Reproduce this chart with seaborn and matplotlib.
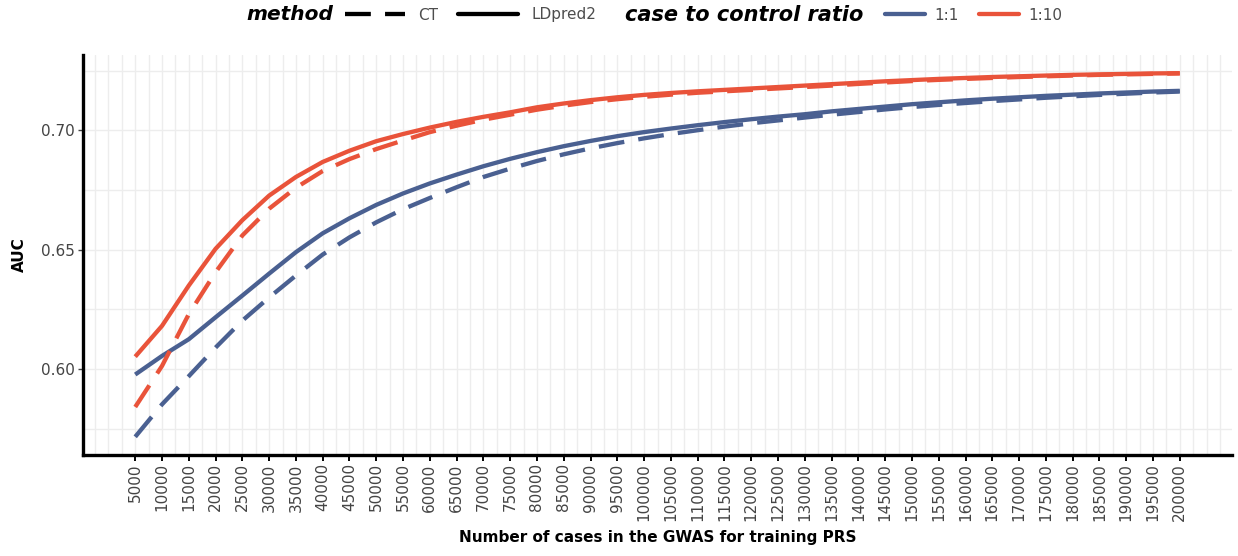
import numpy as np
import pandas as pd
import matplotlib
matplotlib.use("Agg")
import matplotlib.pyplot as plt
import seaborn as sns
from matplotlib.lines import Line2D
from matplotlib.ticker import MultipleLocator, FixedLocator

# ---------------- data ----------------
n_cases = list(range(5000, 200001, 5000))

ldpred2_1to10 = [0.6052, 0.6181, 0.6350, 0.6504, 0.6624, 0.6727, 0.6805, 0.6868, 0.6915, 0.6955,
                 0.6985, 0.7012, 0.7036, 0.7057, 0.7076, 0.7097, 0.7113, 0.7127, 0.7139, 0.7149,
                 0.7157, 0.7164, 0.7170, 0.7176, 0.7182, 0.7188, 0.7194, 0.7200, 0.7206, 0.7211,
                 0.7216, 0.7220, 0.7224, 0.7227, 0.7230, 0.7233, 0.7235, 0.7237, 0.7239, 0.7240]
ct_1to10 = [0.5841, 0.6013, 0.6230, 0.6406, 0.6560, 0.6672, 0.6760, 0.6830, 0.6880, 0.6922,
            0.6958, 0.6993, 0.7020, 0.7045, 0.7066, 0.7087, 0.7104, 0.7119, 0.7131, 0.7141,
            0.7150, 0.7158, 0.7164, 0.7170, 0.7176, 0.7182, 0.7188, 0.7195, 0.7201, 0.7207,
            0.7212, 0.7216, 0.7220, 0.7224, 0.7227, 0.7230, 0.7233, 0.7235, 0.7237, 0.7239]
ldpred2_1to1 = [0.5977, 0.6055, 0.6125, 0.6217, 0.6308, 0.6400, 0.6490, 0.6569, 0.6632, 0.6688,
                0.6736, 0.6778, 0.6815, 0.6850, 0.6881, 0.6909, 0.6934, 0.6956, 0.6976, 0.6993,
                0.7008, 0.7022, 0.7035, 0.7047, 0.7058, 0.7068, 0.7080, 0.7090, 0.7100, 0.7110,
                0.7118, 0.7126, 0.7133, 0.7139, 0.7145, 0.7150, 0.7155, 0.7159, 0.7163, 0.7166]
ct_1to1 = [0.5716, 0.5852, 0.5970, 0.6090, 0.6203, 0.6300, 0.6392, 0.6480, 0.6552, 0.6615,
           0.6670, 0.6717, 0.6762, 0.6805, 0.6840, 0.6872, 0.6900, 0.6925, 0.6947, 0.6967,
           0.6985, 0.7001, 0.7016, 0.7030, 0.7042, 0.7054, 0.7066, 0.7077, 0.7088, 0.7098,
           0.7107, 0.7115, 0.7123, 0.7130, 0.7137, 0.7143, 0.7149, 0.7154, 0.7159, 0.7163]

methods = ["CT", "LDpred2"]
ratios = ["1:1", "1:10"]
y_ticks = [0.60, 0.65, 0.70]
y_tick_labels = ["0.60", "0.65", "0.70"]

series = {("CT", "1:1"): ct_1to1, ("LDpred2", "1:1"): ldpred2_1to1,
          ("CT", "1:10"): ct_1to10, ("LDpred2", "1:10"): ldpred2_1to10}
rows = []
for (m, r), vals in series.items():
    for x, v in zip(n_cases, vals):
        rows.append({"n": x, "AUC": v, "method": m, "ratio": r})
df = pd.DataFrame(rows)

# ---------------- style ----------------
sns.set_theme(style="white")
plt.rcParams["font.family"] = ["DejaVu Sans"]

blue = "#4A6091"
red = "#E9533A"
palette = {"1:1": blue, "1:10": red}
dashes = {"CT": (6, 3.3), "LDpred2": ""}
lw = 3.1

W, H = 1238, 556
fig = plt.figure(figsize=(W / 100, H / 100), dpi=100)
ax = fig.add_axes([83 / W, 1 - 455 / H, (1232 - 83) / W, (455 - 55) / H])

sns.lineplot(data=df, x="n", y="AUC", hue="ratio", style="method",
             palette=palette, dashes=dashes, hue_order=ratios, style_order=methods,
             linewidth=lw, legend=False, ax=ax)
for ln in ax.get_lines():
    ln.set_dash_capstyle("butt")
    ln.set_solid_capstyle("butt")

xmin, xmax = min(n_cases), max(n_cases)
xr = xmax - xmin
ax.set_xlim(xmin - 0.05 * xr, xmax + 0.05 * xr)
allv = ct_1to1 + ct_1to10 + ldpred2_1to1 + ldpred2_1to10
ymin, ymax = min(allv), max(allv)
yr = ymax - ymin
ax.set_ylim(ymin - 0.05 * yr, ymax + 0.05 * yr)

ax.xaxis.set_major_locator(FixedLocator(n_cases))
ax.set_xticklabels([str(v) for v in n_cases], rotation=90)
ax.xaxis.set_minor_locator(MultipleLocator(2500))
ax.yaxis.set_major_locator(FixedLocator(y_ticks))
ax.set_yticklabels(y_tick_labels)
ax.yaxis.set_minor_locator(MultipleLocator(0.025))

ax.grid(True, which="both", color="#EDEDED", linewidth=1.0)
ax.set_axisbelow(True)

for s in ["top", "right"]:
    ax.spines[s].set_visible(False)
for s in ["left", "bottom"]:
    ax.spines[s].set_visible(True)
    ax.spines[s].set_color("black")
    ax.spines[s].set_linewidth(2.4)

ax.tick_params(axis="x", which="major", length=4.5, width=1.4, color="black",
               labelsize=11, labelcolor="#444444", pad=1.5, bottom=True)
ax.tick_params(axis="y", which="major", length=3.5, width=1.0, color="#444444",
               labelsize=11, labelcolor="#444444", pad=2.5, left=True)
ax.tick_params(which="minor", length=0)

ax.set_xlabel("Number of cases in the GWAS for training PRS", fontsize=11,
              fontweight="bold", color="black", labelpad=6)
ax.set_ylabel("AUC", fontsize=11, fontweight="bold", color="black", labelpad=10)

# ---------------- legend ----------------
ly = 1 - 15 / H
fig.text(246 / W, ly, "method", fontsize=14.5, fontweight="bold", fontstyle="italic",
         va="center", ha="left", color="black")
fig.text(625 / W, ly, "case to control ratio", fontsize=15, fontweight="bold",
         fontstyle="italic", va="center", ha="left", color="black")

fs = 11
mh = [Line2D([], [], color="black", lw=lw, dashes=dashes["CT"], dash_capstyle="butt"),
      Line2D([], [], color="black", lw=lw)]
leg1 = fig.legend(mh, methods, loc="center left", bbox_to_anchor=(345 / W, ly),
                  ncol=2, frameon=False, fontsize=fs, handlelength=3.9,
                  handletextpad=0.9, columnspacing=1.3, borderpad=0, borderaxespad=0,
                  labelcolor="#4D4D4D")
rh = [Line2D([], [], color=palette[r], lw=lw) for r in ratios]
leg2 = fig.legend(rh, ratios, loc="center left", bbox_to_anchor=(885 / W, ly),
                  ncol=2, frameon=False, fontsize=fs, handlelength=2.6,
                  handletextpad=0.65, columnspacing=1.3, borderpad=0, borderaxespad=0,
                  labelcolor="#4D4D4D")

fig.savefig("out.png", dpi=100)
